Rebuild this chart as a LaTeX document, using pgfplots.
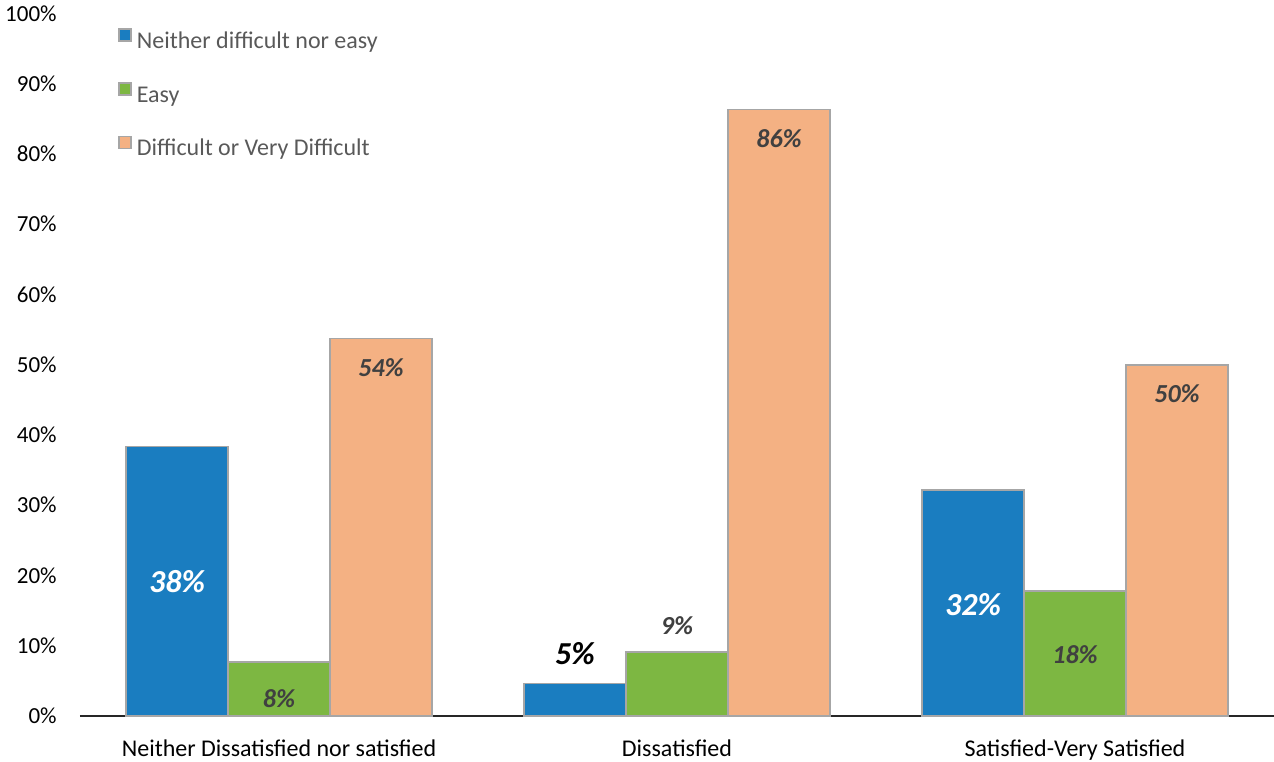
\documentclass[border=0pt]{standalone}
\usepackage{pgfplots}
\pgfplotsset{compat=1.18}
\usepackage{fontspec}
\setmainfont{Carlito}
\definecolor{cblue}{HTML}{1A7DC0}
\definecolor{cgreen}{HTML}{7DB742}
\definecolor{corange}{HTML}{F4B183}
\definecolor{cedge}{HTML}{A6A6A6}
\definecolor{ctext}{HTML}{404040}
\definecolor{clegend}{HTML}{595959}

\begin{document}
\begin{tikzpicture}
\begin{axis}[
    scale only axis,
    width=597pt, height=351pt,
    ybar=0pt, bar width=51pt,
    xmin=-0.5, xmax=2.5,
    ymin=0, ymax=100,
    xtick=data,
    xticklabels={Neither Dissatisfied nor satisfied, Dissatisfied, Satisfied-Very Satisfied},
    ytick={0,10,...,100},
    yticklabel={\pgfmathprintnumber[assume math mode=true]{\tick}\%},
    axis x line*=bottom, axis y line*=left,
    y axis line style={draw=none},
    x axis line style={line width=1pt, black!85},
    tick style={draw=none},
    tick label style={font=\fontsize{11.5}{14}\selectfont, inner sep=0pt},
    xticklabel style={anchor=base, yshift=-16.2pt, font=\fontsize{12}{14}\selectfont},
    yticklabel style={anchor=base east, xshift=-11.5pt, yshift=-3.7pt},
    every axis plot/.append style={draw=cedge, line width=0.75pt},
    nodes near coords={\pgfmathprintnumber[fixed,precision=0,assume math mode=true]{\pgfplotspointmeta}\%},
    nodes near coords style={anchor=center, inner sep=0pt,
        font=\fontsize{13}{15}\selectfont\bfseries\itshape},
    legend style={at={(axis description cs:0.0318,0.98)}, anchor=north west,
        draw=none, fill=none, inner sep=0pt, row sep=14.75pt,
        font=\fontsize{12}{14}\selectfont, text=clegend,
        nodes={inner sep=0pt, text height=8pt, text depth=2pt},
        /tikz/every odd column/.append style={column sep=2.5pt}},
    legend cell align=left,
    legend image code/.code={\draw[#1, line width=0.75pt] (0pt,0.7pt) rectangle (6pt,6.7pt);},
]
\addplot[fill=cblue,
    nodes near coords style={font=\fontsize{16}{18}\selectfont\bfseries\itshape},
    coordinate style/.condition={\coordindex==0}{yshift=-67.5pt, text=white},
    coordinate style/.condition={\coordindex==1}{yshift=15pt, text=black},
    coordinate style/.condition={\coordindex==2}{yshift=-57.5pt, text=white},
] coordinates {(0,38.4) (1,4.6) (2,32.2)};
\addlegendentry{Neither difficult nor easy}
\addplot[fill=cgreen,
    nodes near coords style={text=ctext},
    coordinate style/.condition={\coordindex==0}{yshift=-18.5pt},
    coordinate style/.condition={\coordindex==1}{yshift=13pt},
    coordinate style/.condition={\coordindex==2}{yshift=-32pt},
] coordinates {(0,7.7) (1,9.1) (2,17.8)};
\addlegendentry{Easy}
\addplot[fill=corange,
    nodes near coords style={text=ctext, yshift=-14.5pt},
] coordinates {(0,53.8) (1,86.4) (2,50.0)};
\addlegendentry{Difficult or Very Difficult}
\end{axis}
\pgfresetboundingbox
\path (-40pt,-22.5pt) rectangle (597pt,358pt);
\end{tikzpicture}
\end{document}
